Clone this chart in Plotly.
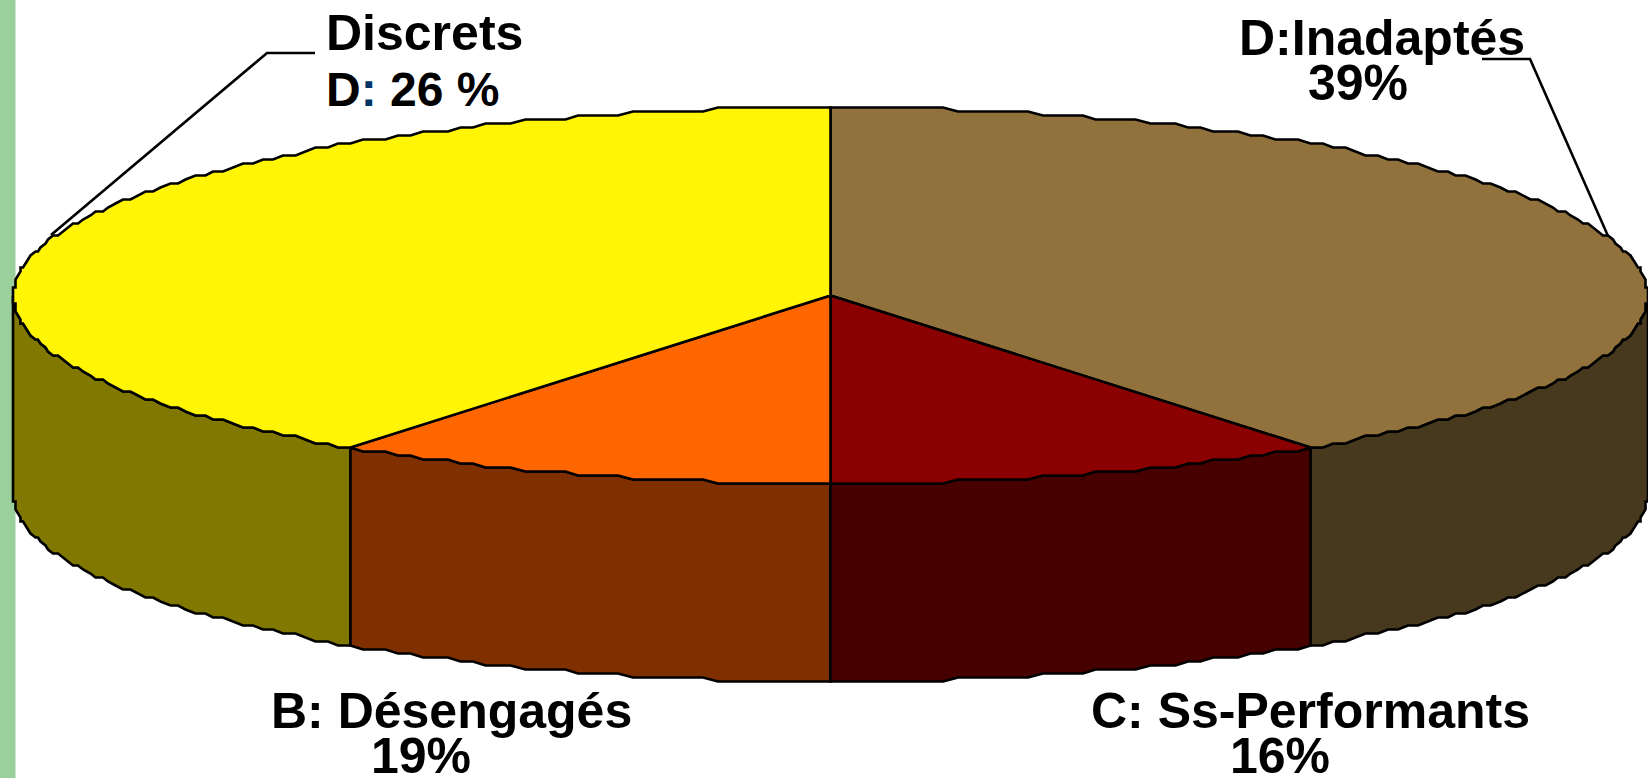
import numpy as np
import plotly.graph_objects as go

# Data
categories = ["D:Inadaptés", "C: Ss-Performants", "B: Désengagés", "Discrets D"]
printed_labels = ["39%", "16%", "19%", "26 %"]
drawn_shares = [40, 10, 10, 40]  # share of the turn each wedge really occupies in the drawing
top_colors = ["#91723C", "#8B0000", "#FF6600", "#FFF505"]
side_colors = ["#47391D", "#470000", "#803000", "#807800"]

# Layout of the drawing, in page pixels
W, H = 1648, 778
CX, CY, RX, RY, DEPTH = 830.5, 295.5, 817, 188, 198
STEP_DEG, GRID_X, GRID_Y = 1, 2.5, 4
FONT = "Liberation Sans"
FS = 50
LW = 2.6


def rim(angles_deg, dy=0.0):
    a = np.radians(np.asarray(angles_deg, dtype=float))
    # the original outline is a coarse, stepped polygon
    x = CX + np.round(RX * np.sin(a) / GRID_X) * GRID_X
    y = CY + np.round(-RY * np.cos(a) / GRID_Y) * GRID_Y + dy
    return x, y


def arc(a0, a1):
    n = int(round(abs(a1 - a0) / STEP_DEG))
    return np.linspace(a0, a1, n + 1)


edges = np.cumsum([0] + drawn_shares) * 3.6
fig = go.Figure()


def add_poly(x, y, color):
    fig.add_trace(go.Scatter(x=list(x), y=list(y), mode="lines", fill="toself",
                             fillcolor=color, line=dict(color="black", width=LW),
                             hoverinfo="skip", showlegend=False))


# Side walls: only the front half of the rim (90 to 270 degrees) is visible
for i in [3, 0, 2, 1]:
    a0, a1 = max(edges[i], 90), min(edges[i + 1], 270)
    if a1 <= a0:
        continue
    ang = arc(a0, a1)
    xt, yt = rim(ang)
    xb, yb = rim(ang, DEPTH)
    add_poly(np.r_[xt, xb[::-1], xt[0]], np.r_[yt, yb[::-1], yt[0]], side_colors[i])

# Top wedges
for i in range(4):
    xt, yt = rim(arc(edges[i], edges[i + 1]))
    add_poly(np.r_[CX, xt, CX], np.r_[CY, yt, CY], top_colors[i])

# Leader lines
for lx, ly in [([315, 267, 51], [53, 53, 235]), ([1482, 1530, 1608], [59, 59, 236])]:
    fig.add_trace(go.Scatter(x=lx, y=ly, mode="lines", line=dict(color="black", width=LW),
                             hoverinfo="skip", showlegend=False))


def label(text, x, baseline, anchor="left", size=FS):
    fig.add_annotation(x=x, y=baseline - 17, text="<b>%s</b>" % text, xref="x", yref="y",
                       xanchor=anchor, yanchor="middle", showarrow=False,
                       borderpad=0, borderwidth=0,
                       font=dict(family=FONT, size=size, color="black"))


label("Discrets", 326, 50)
label('D<span style="color:#003366">:</span> ' + printed_labels[3], 326, 106, size=48)
label(categories[0], 1382, 55, "center")
label(printed_labels[0], 1358, 100, "center")
label(categories[2], 451, 728, "center")
label(printed_labels[2], 421, 773, "center")
label(categories[1], 1310, 728, "center")
label(printed_labels[1], 1280, 773, "center")

fig.update_layout(
    width=W, height=H, autosize=False,
    margin=dict(l=0, r=0, t=0, b=0),
    paper_bgcolor="white", plot_bgcolor="white",
    xaxis=dict(range=[0, W], visible=False, fixedrange=True),
    yaxis=dict(range=[H, 0], visible=False, fixedrange=True),
    shapes=[dict(type="rect", x0=0, x1=15.5, y0=0, y1=H, xref="x", yref="y",
                 fillcolor="#9BCF9B", line=dict(width=0), layer="below")],
)

fig.write_html("out.html", config=dict(displayModeBar=False),
               post_script="document.body.style.margin='0';document.body.style.overflow='hidden';")
